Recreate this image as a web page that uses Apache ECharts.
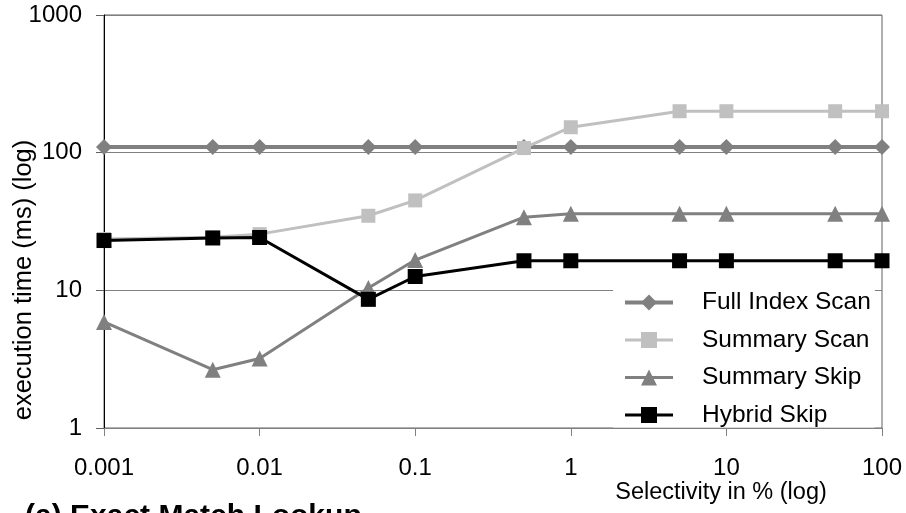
<!DOCTYPE html>
<html><head><meta charset="utf-8">
<script src="https://cdn.jsdelivr.net/npm/echarts@6/dist/echarts.min.js"></script>
<style>html,body{margin:0;padding:0;background:#fff}#c{width:906px;height:513px}</style>
</head><body><div id="c"></div>
<script>
const selectivity = [0.001, 0.005, 0.01, 0.05, 0.1, 0.5, 1, 5, 10, 50, 100];
const fullIndexScan = [110, 110, 110, 110, 110, 110, 110, 110, 110, 110, 110];
const summaryScan = [23.6, 24.3, 25.6, 34.8, 45, 108, 153, 200, 200, 200, 200];
const summarySkip = [5.9, 2.65, 3.2, 10.4, 16.6, 34, 36, 36, 36, 36, 36];
const hybridSkip = [23, 24, 24.2, 8.6, 12.6, 16.4, 16.4, 16.4, 16.4, 16.4, 16.4];
const seriesNames = ['Full Index Scan', 'Summary Scan', 'Summary Skip', 'Hybrid Skip'];
const xTitle = 'Selectivity in % (log)';
const yTitle = 'execution time (ms) (log)';
const caption = '(a) Exact Match Lookup';

const FONT = '"Liberation Sans", Arial, sans-serif';
const pairs = ys => selectivity.map((x, i) => [x, ys[i]]);
const fmt = v => String(+Number(v).toPrecision(6));

const chart = echarts.init(document.getElementById('c'), null, {renderer: 'canvas'});
chart.setOption({
  animation: false,
  backgroundColor: '#fff',
  textStyle: {fontFamily: FONT},
  grid: {left: 104, right: 24, top: 15, bottom: 85, show: true, borderColor: '#606060', borderWidth: 1, backgroundColor: 'transparent'},
  xAxis: {
    type: 'log', logBase: 10, min: 0.001, max: 100,
    axisLine: {show: true, lineStyle: {color: '#808080', width: 1}},
    axisTick: {show: true, length: 8, lineStyle: {color: '#808080'}},
    minorTick: {show: false},
    splitLine: {show: false},
    axisLabel: {fontSize: 24, color: '#000', fontFamily: FONT, margin: 28, formatter: fmt}
  },
  yAxis: {
    type: 'log', logBase: 10, min: 1, max: 1000,
    axisLine: {show: true, lineStyle: {color: '#000', width: 1}},
    axisTick: {show: true, length: 8, lineStyle: {color: '#606060'}},
    minorTick: {show: false},
    splitLine: {show: true, lineStyle: {color: '#808080', width: 1}},
    axisLabel: {fontSize: 24, color: '#000', fontFamily: FONT, margin: 22, padding: [8, 0, 0, 0], formatter: fmt}
  },
  legend: {
    orient: 'vertical', left: 613, top: 286,
    backgroundColor: '#fff', padding: [4, 4, 0, 10],
    itemWidth: 48, itemHeight: 20, itemGap: 12.5,
    lineStyle: {width: 'inherit'},
    textStyle: {fontSize: 24.5, color: '#000', fontFamily: FONT, padding: [0, 0, 0, 24]},
    data: seriesNames
  },
  series: [
    {name: seriesNames[0], type: 'line', data: pairs(fullIndexScan), symbol: 'diamond', symbolSize: 16,
     lineStyle: {width: 4, color: '#808080'}, itemStyle: {color: '#808080'}, z: 2},
    {name: seriesNames[1], type: 'line', data: pairs(summaryScan), symbol: 'rect', symbolSize: 14,
     lineStyle: {width: 3, color: '#c0c0c0'}, itemStyle: {color: '#c0c0c0'}, z: 3},
    {name: seriesNames[2], type: 'line', data: pairs(summarySkip), symbol: 'triangle', symbolSize: 16,
     lineStyle: {width: 3, color: '#808080'}, itemStyle: {color: '#808080'}, z: 4},
    {name: seriesNames[3], type: 'line', data: pairs(hybridSkip), symbol: 'rect', symbolSize: 15,
     lineStyle: {width: 3, color: '#000'}, itemStyle: {color: '#000'}, z: 5}
  ],
  graphic: [
    {type: 'text', x: 24, y: 280, rotation: Math.PI / 2,
     style: {text: yTitle, fontSize: 25.5, fontFamily: FONT, fill: '#000', align: 'center', verticalAlign: 'middle'}},
    {type: 'text', x: 721, y: 493,
     style: {text: xTitle, fontSize: 23.5, fontFamily: FONT, fill: '#000', align: 'center', verticalAlign: 'middle'}},
    {type: 'text', x: 25, y: 517,
     style: {text: caption, fontSize: 30, fontWeight: 'bold', fontFamily: FONT, fill: '#000', align: 'left', verticalAlign: 'middle'}}
  ]
});
</script></body></html>
